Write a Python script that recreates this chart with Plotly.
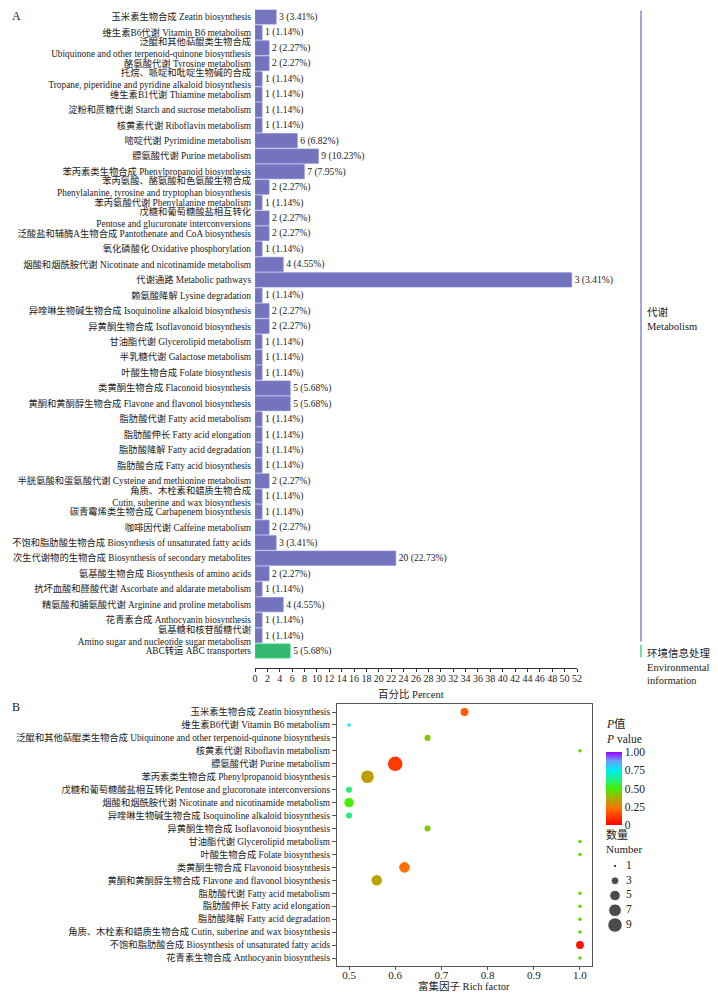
import plotly.graph_objects as go

# ---------------- Panel A data ----------------
bar_labels = [
    "玉米素生物合成 Zeatin biosynthesis",
    "维生素B6代谢 Vitamin B6 metabolism",
    "泛醌和其他萜醌类生物合成<br>Ubiquinone and other terpenoid-quinone biosynthesis",
    "酪氨酸代谢 Tyrosine metabolism",
    "托烷、哌啶和吡啶生物碱的合成<br>Tropane, piperidine and pyridine alkaloid biosynthesis",
    "维生素B1代谢 Thiamine metabolism",
    "淀粉和蔗糖代谢 Starch and sucrose metabolism",
    "核黄素代谢 Riboflavin metabolism",
    "嘧啶代谢 Pyrimidine metabolism",
    "膘氨酸代谢 Purine metabolism",
    "苯丙素类生物合成 Phenylpropanoid biosynthesis",
    "苯丙氨酸、酪氨酸和色氨酸生物合成<br>Phenylalanine, tyrosine and tryptophan biosynthesis",
    "苯丙氨酸代谢 Phenylalanine metabolism",
    "戊糖和葡萄糖酸盐相互转化<br>Pentose and glucuronate interconversions",
    "泛酸盐和辅酶A生物合成 Pantothenate and CoA biosynthesis",
    "氧化磷酸化 Oxidative phosphorylation",
    "烟酸和烟酰胺代谢 Nicotinate and nicotinamide metabolism",
    "代谢通路 Metabolic pathways",
    "赖氨酸降解 Lysine degradation",
    "异喹啉生物碱生物合成 Isoquinoline alkaloid biosynthesis",
    "异黄酮生物合成 Isoflavonoid biosynthesis",
    "甘油酯代谢 Glycerolipid metabolism",
    "半乳糖代谢 Galactose metabolism",
    "叶酸生物合成 Folate biosynthesis",
    "类黄酮生物合成 Flaconoid biosynthesis",
    "黄酮和黄酮醇生物合成 Flavone and flavonol biosynthesis",
    "脂肪酸代谢 Fatty acid metabolism",
    "脂肪酸伸长 Fatty acid elongation",
    "脂肪酸降解 Fatty acid degradation",
    "脂肪酸合成 Fatty acid biosynthesis",
    "半胱氨酸和蛋氨酸代谢 Cysteine and methionine metabolism",
    "角质、木栓素和蜡质生物合成<br>Cutin, suberine and wax biosynthesis",
    "碳青霉烯类生物合成 Carbapenem biosynthesis",
    "咖啡因代谢 Caffeine metabolism",
    "不饱和脂肪酸生物合成 Biosynthesis of unsaturated fatty acids",
    "次生代谢物的生物合成 Biosynthesis of secondary metabolites",
    "氨基酸生物合成 Biosynthesis of amino acids",
    "抗坏血酸和醛酸代谢 Ascorbate and aldarate metabolism",
    "精氨酸和脯氨酸代谢 Arginine and proline metabolism",
    "花青素合成 Anthocyanin biosynthesis",
    "氨基糖和核苷酸糖代谢<br>Amino sugar and nucleotide sugar metabolism",
    "ABC转运 ABC transporters",
]
bar_count = [3, 1, 2, 2, 1, 1, 1, 1, 6, 9, 7, 2, 1, 2, 2, 1, 4, 3, 1, 2, 2, 1, 1, 1,
             5, 5, 1, 1, 1, 1, 2, 1, 1, 2, 3, 20, 2, 1, 4, 1, 1, 5]
bar_label_pct = ["3.41", "1.14", "2.27", "2.27", "1.14", "1.14", "1.14", "1.14", "6.82",
                 "10.23", "7.95", "2.27", "1.14", "2.27", "2.27", "1.14", "4.55", "3.41",
                 "1.14", "2.27", "2.27", "1.14", "1.14", "1.14", "5.68", "5.68", "1.14",
                 "1.14", "1.14", "1.14", "2.27", "1.14", "1.14", "2.27", "3.41", "22.73",
                 "2.27", "1.14", "4.55", "1.14", "1.14", "5.68"]
bar_percent = [3.41, 1.14, 2.27, 2.27, 1.14, 1.14, 1.14, 1.14, 6.82, 10.23, 7.95, 2.27,
               1.14, 2.27, 2.27, 1.14, 4.55, 51.14, 1.14, 2.27, 2.27, 1.14, 1.14, 1.14,
               5.68, 5.68, 1.14, 1.14, 1.14, 1.14, 2.27, 1.14, 1.14, 2.27, 3.41, 22.73,
               2.27, 1.14, 4.55, 1.14, 1.14, 5.68]
bar_class = ["Metabolism"] * 41 + ["Environmental"]
class_names = {"Metabolism": "代谢<br>Metabolism",
               "Environmental": "环境信息处理<br>Environmental<br>information"}
class_colors = {"Metabolism": "#7473bd", "Environmental": "#33b873"}
class_line_colors = {"Metabolism": "#8686d6", "Environmental": "#40d880"}
x_ticks_a = list(range(0, 53, 2))
x_title_a = "百分比 Percent"

# ---------------- Panel B data ----------------
bub_labels = [
    "玉米素生物合成 Zeatin biosynthesis",
    "维生素B6代谢 Vitamin B6 metabolism",
    "泛醌和其他萜醌类生物合成 Ubiquinone and other terpenoid-quinone biosynthesis",
    "核黄素代谢 Riboflavin metabolism",
    "膘氨酸代谢 Purine metabolism",
    "苯丙素类生物合成 Phenylpropanoid biosynthesis",
    "戊糖和葡萄糖酸盐相互转化 Pentose and glucoronate interconversions",
    "烟酸和烟酰胺代谢 Nicotinate and nicotinamide metabolism",
    "异喹啉生物碱生物合成 Isoquinoline alkaloid biosynthesis",
    "异黄酮生物合成 Isoflavonoid biosynthesis",
    "甘油酯代谢 Glycerolipid metabolism",
    "叶酸生物合成 Folate biosynthesis",
    "类黄酮生物合成 Flavonoid biosynthesis",
    "黄酮和黄酮醇生物合成 Flavone and flavonol biosynthesis",
    "脂肪酸代谢 Fatty acid metabolism",
    "脂肪酸伸长 Fatty acid elongation",
    "脂肪酸降解 Fatty acid degradation",
    "角质、木栓素和蜡质生物合成 Cutin, suberine and wax biosynthesis",
    "不饱和脂肪酸合成 Biosynthesis of unsaturated fatty acids",
    "花青素生物合成 Anthocyanin biosynthesis",
]
bub_rich = [0.75, 0.5, 0.67, 1.0, 0.6, 0.54, 0.5, 0.5, 0.5, 0.67, 1.0, 1.0, 0.62, 0.56,
            1.0, 1.0, 1.0, 1.0, 1.0, 1.0]
bub_number = [3, 1, 2, 1, 9, 7, 2, 4, 2, 2, 1, 1, 5, 5, 1, 1, 1, 1, 3, 1]
bub_p = [0.18, 0.75, 0.42, 0.45, 0.12, 0.33, 0.6, 0.5, 0.6, 0.42, 0.45, 0.45, 0.22, 0.34,
         0.45, 0.45, 0.45, 0.45, 0.04, 0.45]
size_legend_values = [1, 3, 5, 7, 9]
p_ticks = [0, 0.25, 0.5, 0.75, 1.0]
p_ticktext = ["0", "0.25", "0.50", "0.75", "1.00"]
p_title = "<i>P</i>值<br><i>P</i> value"
size_title = "数量<br>Number"
x_ticks_b = [0.5, 0.6, 0.7, 0.8, 0.9, 1.0]
x_ticktext_b = ["0.5", "0.6", "0.7", "0.8", "0.9", "1.0"]
x_title_b = "富集因子 Rich factor"

# ---------------- helpers ----------------
PAGE_MARGIN = 8          # default body margin of the html page
W, H = 718 - 2 * PAGE_MARGIN, 1000 - 2 * PAGE_MARGIN
FONT = "Liberation Serif, 'Noto Sans CJK SC', serif"
TXT = "#222222"
FS = 9.3


def px_x(p):
    return (p - PAGE_MARGIN) / W


def px_y(p):
    return 1 - (p - PAGE_MARGIN) / H


def dot_size(n):
    d1, d9 = 3.5, 14.5
    return (d1 ** 2 + (d9 ** 2 - d1 ** 2) * (n - 1) / 8) ** 0.5


colorscale = [[0.0, "#ff0000"], [0.12, "#ff3a00"], [0.22, "#ff6e00"], [0.35, "#b4a600"],
              [0.5, "#44ee00"], [0.62, "#22ee88"], [0.75, "#00eeee"], [0.88, "#6a9cff"],
              [1.0, "#9a00ff"]]

fig = go.Figure()

# Panel A bars
fig.add_trace(go.Bar(
    x=bar_percent, y=bar_labels, orientation="h",
    marker=dict(color=[class_colors[c] for c in bar_class],
                line=dict(color=[class_line_colors[c] for c in bar_class], width=0.8)),
    text=[f"{c} ({p}%)" for c, p in zip(bar_count, bar_label_pct)],
    textposition="outside", cliponaxis=False,
    textfont=dict(size=9.6, color=TXT, family=FONT),
    xaxis="x", yaxis="y", showlegend=False, hoverinfo="skip",
))

# Panel B bubbles
fig.add_trace(go.Scatter(
    x=bub_rich, y=bub_labels, mode="markers",
    marker=dict(size=[dot_size(n) for n in bub_number], sizemode="diameter",
                color=bub_p, cmin=0, cmax=1, colorscale=colorscale,
                line=dict(width=0), opacity=1,
                showscale=True,
                colorbar=dict(
                    x=px_x(606), xanchor="left", y=px_y(752), yanchor="top",
                    lenmode="pixels", len=73, thickness=16, outlinewidth=0,
                    tickvals=p_ticks, ticktext=p_ticktext, ticks="",
                    tickfont=dict(size=11.5, color=TXT, family=FONT),
                    ypad=0, xpad=0,
                )),
    xaxis="x2", yaxis="y2", showlegend=False, hoverinfo="skip", cliponaxis=False,
))

# Size legend (dots + labels)
fig.add_trace(go.Scatter(
    x=[0] * len(size_legend_values), y=size_legend_values, mode="markers",
    marker=dict(size=[dot_size(n) for n in size_legend_values], sizemode="diameter",
                color="black"),
    xaxis="x3", yaxis="y3", showlegend=False, hoverinfo="skip", cliponaxis=False,
))
fig.add_trace(go.Scatter(
    x=[0.11] * len(size_legend_values), y=size_legend_values, mode="text",
    text=[str(v) for v in size_legend_values], textposition="middle right",
    textfont=dict(size=11.5, color=TXT, family=FONT),
    xaxis="x3", yaxis="y3", showlegend=False, hoverinfo="skip", cliponaxis=False,
))

n_bars = len(bar_labels)
row_px = (651 - 17) / (n_bars - 1)
a_top, a_bot = 17 - row_px / 2, 668
a_range_bottom = -0.5 + (a_bot - a_top) / row_px

n_b = len(bub_labels)
b_row = (958 - 712) / (n_b - 1)
b_top, b_bot = 704, 966

fig.update_layout(
    width=W, height=H, margin=dict(l=0, r=0, t=0, b=0),
    paper_bgcolor="white", plot_bgcolor="white",
    font=dict(family=FONT, size=FS, color=TXT),
    bargap=0.08,
    xaxis=dict(domain=[px_x(255), px_x(577)], range=[0, 52], anchor="y",
               tickvals=x_ticks_a, ticks="outside", ticklen=3, tickcolor="#333",
               showline=True, linecolor="#333", linewidth=1, showgrid=False,
               zeroline=False, tickfont=dict(size=10), ticklabelstandoff=-2,
               automargin=False),
    yaxis=dict(domain=[px_y(a_bot), px_y(a_top)], range=[a_range_bottom, -0.5],
               type="category", categoryorder="array", categoryarray=bar_labels,
               anchor="x", showline=False, ticks="", showgrid=False,
               ticklabelstandoff=3, tickfont=dict(size=FS), automargin=False),
    xaxis2=dict(domain=[px_x(337), px_x(592)], range=[0.474, 1.026], anchor="y2",
                tickvals=x_ticks_b, ticktext=x_ticktext_b,
                ticks="outside", ticklen=3, tickcolor="#555",
                showline=True, mirror=True, linecolor="#555", linewidth=1.2,
                showgrid=False, zeroline=False, tickfont=dict(size=11),
                ticklabelstandoff=-4, automargin=False),
    yaxis2=dict(domain=[px_y(b_bot), px_y(b_top)],
                range=[(b_bot - 712) / b_row, -(712 - b_top) / b_row],
                type="category", categoryorder="array", categoryarray=bub_labels,
                anchor="x2", ticks="outside", ticklen=4, tickcolor="#555",
                showline=True, mirror=True, linecolor="#555", linewidth=1.2,
                showgrid=False, tickfont=dict(size=FS), automargin=False),
    xaxis3=dict(domain=[px_x(605), px_x(705)], range=[-0.1, 0.9], visible=False,
                anchor="y3"),
    yaxis3=dict(domain=[px_y(933), px_y(859)], range=[10.08, 0.05], visible=False,
                anchor="x3"),
)

# Axis titles
fig.add_annotation(xref="paper", yref="paper", x=px_x(411), y=px_y(694),
                   xanchor="center", yanchor="middle", text=x_title_a, showarrow=False,
                   font=dict(size=10.5, color=TXT))
fig.add_annotation(xref="paper", yref="paper", x=px_x(464), y=px_y(985.5),
                   xanchor="center", yanchor="middle", text=x_title_b, showarrow=False,
                   font=dict(size=10.5, color=TXT))

# Category bracket lines at right of panel A
groups = []
for i, c in enumerate(bar_class):
    if groups and groups[-1][0] == c:
        groups[-1][2] = i
    else:
        groups.append([c, i, i])
for c, i0, i1 in groups:
    fig.add_shape(type="line", xref="paper", yref="y",
                  x0=px_x(641), x1=px_x(641), y0=i0 - 0.4, y1=i1 + 0.4,
                  line=dict(color=class_line_colors[c], width=1.5))
    fig.add_annotation(xref="paper", yref="y", x=px_x(645),
                       y=(i0 + i1) / 2 - 0.5 if i1 > i0 else i0 - 0.4,
                       yanchor="middle" if i1 > i0 else "top",
                       xanchor="left", align="left", showarrow=False,
                       text=class_names[c], font=dict(size=10.5, color=TXT))

# Panel letters
fig.add_annotation(xref="paper", yref="paper", x=px_x(10), y=px_y(7), xanchor="left",
                   yanchor="top", text="A", showarrow=False, font=dict(size=12, color=TXT))
fig.add_annotation(xref="paper", yref="paper", x=px_x(10), y=px_y(698), xanchor="left",
                   yanchor="top", text="B", showarrow=False, font=dict(size=12, color=TXT))
# Legend titles
fig.add_annotation(xref="paper", yref="paper", x=px_x(604), y=px_y(716), xanchor="left",
                   yanchor="top", align="left", text=p_title, showarrow=False,
                   font=dict(size=11.5, color=TXT))
fig.add_annotation(xref="paper", yref="paper", x=px_x(604), y=px_y(827), xanchor="left",
                   yanchor="top", align="left", text=size_title, showarrow=False,
                   font=dict(size=11, color=TXT))

fig.write_html("out.html")
